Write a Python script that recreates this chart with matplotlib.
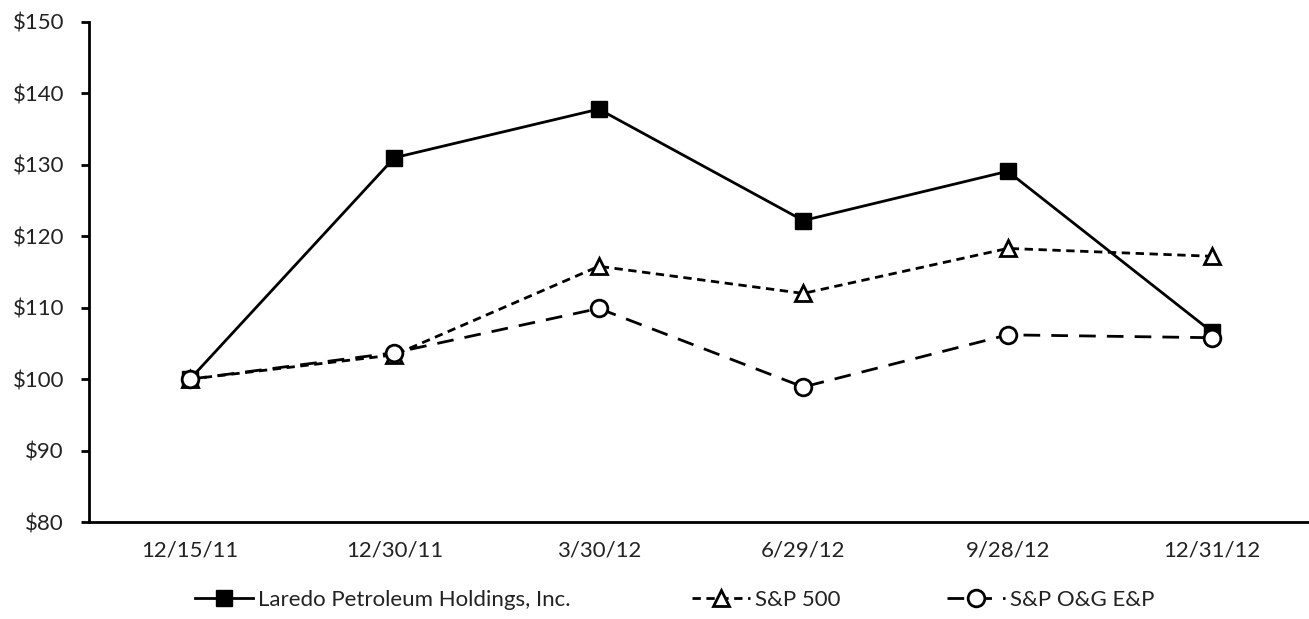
import matplotlib
matplotlib.use("Agg")
import matplotlib.pyplot as plt
from matplotlib.ticker import FuncFormatter
from matplotlib.lines import Line2D

dates = ["12/15/11", "12/30/11", "3/30/12", "6/29/12", "9/28/12", "12/31/12"]
laredo = [100.0, 131.0, 137.8, 122.2, 129.1, 106.6]
sp500 = [100.0, 103.4, 115.8, 112.0, 118.3, 117.2]
sp_oge = [100.0, 103.7, 109.9, 98.9, 106.2, 105.8]
series_names = ["Laredo Petroleum Holdings, Inc.", "S&P 500", "S&P O&G E&P"]

plt.rcParams['font.family'] = ['Lato', 'DejaVu Sans']
TXT = '#222222'

fig = plt.figure(figsize=(13.09, 6.19), dpi=100)
ax = fig.add_axes([0.068, 0.1567, 0.932, 0.8078])

x = list(range(len(dates)))
l1, = ax.plot(x, laredo, color='black', lw=2, marker='s', ms=11, mfc='black', mec='black',
              label=series_names[0], zorder=3)
l2, = ax.plot(x, sp500, color='black', lw=2, ls=(0, (3, 2)), marker='^', ms=12, mfc='white',
              mec='black', mew=2, label=series_names[1], zorder=4)
l3, = ax.plot(x, sp_oge, color='black', lw=2, ls=(0, (6, 4)), marker='o', ms=12, mfc='white',
              mec='black', mew=2, label=series_names[2], zorder=5)

ax.set_xlim(-0.494, 5.474)
ax.set_ylim(80, 150)
ax.set_yticks(range(80, 151, 10))
ax.yaxis.set_major_formatter(FuncFormatter(lambda v, p: f"${int(v)}"))
ax.set_xticks(x)
ax.set_xticklabels(dates)
ax.tick_params(axis='x', length=0, pad=13, labelsize=16, labelcolor=TXT)
ax.tick_params(axis='y', length=6, width=2, direction='out', labelsize=16, pad=12,
               labelcolor=TXT)
for s in ['top', 'right']:
    ax.spines[s].set_visible(False)
for s in ['left', 'bottom']:
    ax.spines[s].set_linewidth(2)

# legend entries, one per series, spread along the bottom
lx = [195 / 1309, 692 / 1309, 947 / 1309]
for h, name, xx in zip([l1, l2, l3], series_names, lx):
    fig.legend([h], [name], loc='center left', bbox_to_anchor=(xx, 0.031), frameon=False,
               fontsize=16, handlelength=2.6, handletextpad=0.25, borderpad=0,
               borderaxespad=0, labelcolor=TXT)

fig.savefig("out.png", dpi=100)
